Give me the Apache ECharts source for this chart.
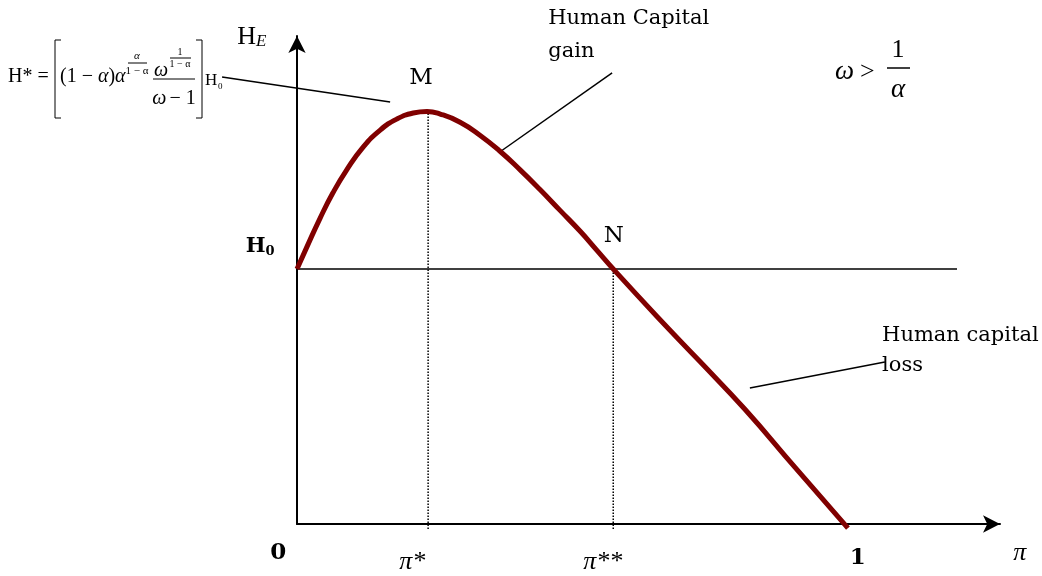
<!DOCTYPE html>
<html><head><meta charset="utf-8">
<script src="https://cdn.jsdelivr.net/npm/echarts@6/dist/echarts.min.js"></script>
<style>html,body{margin:0;padding:0;background:#fff}#c{width:1042px;height:576px}</style>
</head><body><div id="c"></div>
<script>
// Curve H_E(pi)
const curvePi = [0, 0.018, 0.042, 0.065, 0.090, 0.120, 0.151, 0.181, 0.211, 0.236, 0.260, 0.296, 0.332, 0.368, 0.405, 0.441, 0.477, 0.514, 0.544, 0.574, 0.653, 0.731, 0.813, 0.904, 1.0];
const curveH  = [1.0, 1.087, 1.200, 1.298, 1.388, 1.478, 1.545, 1.588, 1.612, 1.618, 1.608, 1.576, 1.525, 1.463, 1.389, 1.312, 1.231, 1.148, 1.074, 1.0, 0.815, 0.638, 0.450, 0.222, -0.016];
// Reference level H0 and key points
const h0Level = 1.0;
const h0LineEnd = 1.198;
const piStar = 0.238, peakH = 1.618;
const piStarStar = 0.574;
const dropBelow = -0.02;
// Leader lines [pi, H] pairs
const leaderFormula = [[-0.136, 1.753], [0.169, 1.655]];
const leaderGain = [[0.572, 1.769], [0.368, 1.459]];
const leaderLoss = [[1.067, 0.635], [0.822, 0.533]];
// Annotation anchors
const annotPi = [0.225, 0.575, -0.067, -0.034, 0.209, 0.555, 1.018, 1.312, -0.082, 0.456, 1.062];
const annotH  = [1.749, 1.129, 1.090, -0.114, -0.149, -0.149, -0.133, -0.114, 1.91, 1.918, 0.682];
const annotKey = ['M', 'N', 'H0', 'zero', 'piStar', 'piStarStar', 'one', 'pi', 'HE', 'gain', 'loss'];

const SERIF = '"Liberation Serif", "Times New Roman", serif';
const BOOK = '"DejaVu Serif", serif';
const labelDefs = {
  M: {text: 'M', font: '23px ' + BOOK},
  N: {text: 'N', font: '23px ' + BOOK},
  H0: {text: '{h|H}{s|0}', rich: {h: {fontFamily: BOOK, fontWeight: 'bold', fontSize: 21}, s: {fontFamily: BOOK, fontWeight: 'bold', fontSize: 13, padding: [12, 0, 0, 0]}}},
  zero: {text: '0', font: 'bold 23px ' + BOOK},
  piStar: {text: 'π*', font: 'italic 26px ' + SERIF},
  piStarStar: {text: 'π**', font: 'italic 26px ' + SERIF},
  one: {text: '1', font: 'bold 23px ' + BOOK},
  pi: {text: 'π', font: 'italic 26px ' + SERIF},
  HE: {text: '{h|H}{e|E}', rich: {h: {fontFamily: SERIF, fontSize: 26}, e: {fontFamily: SERIF, fontStyle: 'italic', fontSize: 17, padding: [9, 0, 0, 0]}}},
  gain: {text: 'Human Capital\ngain', font: '21px ' + BOOK, lineHeight: 33, textAlign: 'left'},
  loss: {text: 'Human capital\nloss', font: '21px ' + BOOK, lineHeight: 30, textAlign: 'left'}
};

const chart = echarts.init(document.getElementById('c'), null, {renderer: 'canvas'});
const axisCommon = {
  type: 'value', axisTick: {show: false}, axisLabel: {show: false}, splitLine: {show: false},
  axisLine: {show: true, onZero: false, lineStyle: {color: '#000', width: 2}, symbol: ['none', 'arrow'], symbolSize: [13, 17]}
};
const lineSeries = (data, style) => ({
  type: 'line', data, showSymbol: false, symbol: 'none', clip: false, silent: true, z: 2,
  lineStyle: Object.assign({color: '#000', width: 1.5}, style)
});

function T(text, x, y, size, opts) {
  return {type: 'text', silent: true, style: Object.assign({text, x, y, fill: '#000', font: size + 'px ' + SERIF, textAlign: 'left', textVerticalAlign: 'middle'}, opts || {})};
}
function L(x1, y1, x2, y2, w) {
  return {type: 'line', silent: true, shape: {x1, y1, x2, y2}, style: {stroke: '#000', lineWidth: w || 1}};
}
const it = (s) => 'italic ' + s + 'px ' + SERIF;

chart.setOption({
  animation: false,
  backgroundColor: '#fff',
  grid: {left: 297, top: 36, right: 42, bottom: 52},
  xAxis: Object.assign({min: 0, max: 1.276}, axisCommon),
  yAxis: Object.assign({min: 0, max: 1.914}, axisCommon),
  series: [
    lineSeries([[0, h0Level], [h0LineEnd, h0Level]], {width: 1.5}),
    lineSeries([[piStar, dropBelow], [piStar, peakH]], {type: 'dotted', width: 1.5}),
    lineSeries([[piStarStar, dropBelow], [piStarStar, h0Level]], {type: 'dotted', width: 1.5}),
    lineSeries(leaderGain, {width: 1.5}),
    lineSeries(leaderLoss, {width: 1.5}),
    {
      type: 'line', data: curvePi.map((p, i) => [p, curveH[i]]), smooth: 0.5, showSymbol: false, symbol: 'none',
      clip: false, silent: true, z: 3, lineStyle: {color: '#800000', width: 5, join: 'round'}
    }
  ]
});

const px = (p) => chart.convertToPixel({gridIndex: 0}, p);
const overlay = [];
// leader line from the formula, outside the plotting area
const f0 = px(leaderFormula[0]), f1 = px(leaderFormula[1]);
overlay.push(L(f0[0], f0[1], f1[0], f1[1], 1.5));
// point and axis labels
annotKey.forEach((k, i) => {
  const pt = px([annotPi[i], annotH[i]]);
  overlay.push({type: 'text', silent: true, z: 10,
    style: Object.assign({x: pt[0], y: pt[1], fill: '#000', textAlign: 'center', textVerticalAlign: 'middle'}, labelDefs[k])});
});
// formula H*
overlay.push(
  T('H* =', 8, 77, 20),
  {type: 'polyline', silent: true, shape: {points: [[61, 40], [55, 40], [55, 118], [61, 118]]}, style: {stroke: '#000', lineWidth: 1, fill: null}},
  {type: 'text', silent: true, style: {x: 60, y: 77, textVerticalAlign: 'middle', fill: '#000',
    text: '{r|(1 − }{i|α}{r|)}{i|α}',
    rich: {r: {fontFamily: SERIF, fontSize: 20}, i: {fontFamily: SERIF, fontStyle: 'italic', fontSize: 20}}}},
  T('α', 137, 56, 11, {font: it(11), textAlign: 'center'}),
  L(128, 63, 147, 63, 1),
  T('1 − α', 137, 71, 11, {textAlign: 'center'}),
  T('ω', 161, 71, 20, {font: it(20), textAlign: 'center'}),
  T('1', 180, 52, 10, {textAlign: 'center'}),
  L(170, 58, 191, 58, 1),
  T('1 − α', 180, 64, 10, {textAlign: 'center'}),
  L(153, 79, 195, 79, 1),
  {type: 'text', silent: true, style: {x: 174, y: 99, textAlign: 'center', textVerticalAlign: 'middle', fill: '#000',
    text: '{i|ω} {r|− 1}',
    rich: {r: {fontFamily: SERIF, fontSize: 20}, i: {fontFamily: SERIF, fontStyle: 'italic', fontSize: 20}}}},
  {type: 'polyline', silent: true, shape: {points: [[196, 40], [202, 40], [202, 118], [196, 118]]}, style: {stroke: '#000', lineWidth: 1, fill: null}},
  T('H', 205, 81, 17),
  T('0', 218, 87, 9),
  // omega > 1/alpha
  T('ω', 835, 72, 27, {font: it(27)}),
  T('>', 860, 72, 26),
  T('1', 898, 50, 26, {textAlign: 'center'}),
  L(887, 68, 910, 68, 1.5),
  T('α', 898, 90, 27, {font: it(27), textAlign: 'center'})
);
chart.setOption({graphic: overlay});
</script>
</body></html>
